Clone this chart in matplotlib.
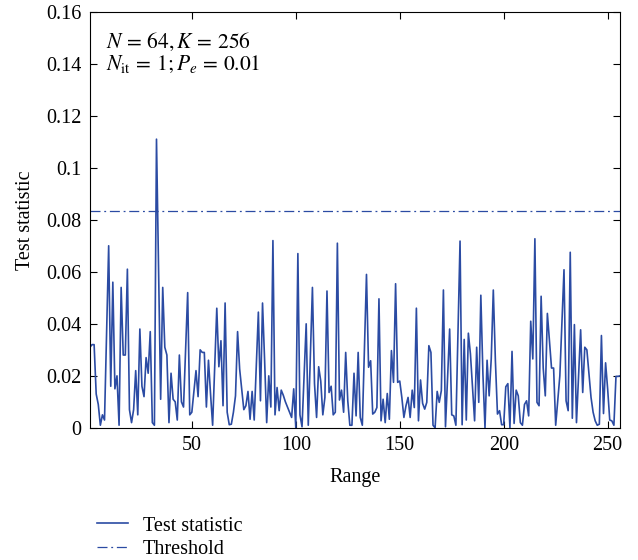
import numpy as np
import matplotlib
matplotlib.use("Agg")
import matplotlib.pyplot as plt

# test statistic per range bin
test_stat = [
    0.031, 0.032, 0.032, 0.013, 0.009, 0.001, 0.005, 0.003, 0.036, 0.070,
    0.016, 0.056, 0.015, 0.020, 0.001, 0.054, 0.028, 0.028, 0.061, 0.007,
    0.002, 0.007, 0.022, 0.005, 0.038, 0.016, 0.012, 0.027, 0.021, 0.037,
    0.002, 0.001, 0.111, 0.060, 0.011, 0.054, 0.031, 0.028, 0.002, 0.021,
    0.011, 0.010, 0.003, 0.028, 0.010, 0.008, 0.030, 0.052, 0.005, 0.006,
    0.014, 0.022, 0.012, 0.030, 0.029, 0.029, 0.008, 0.026, 0.013, 0.001,
    0.023, 0.046, 0.0235, 0.0335, 0.0085, 0.048, 0.006, 0.0012, 0.0014, 0.006,
    0.0123, 0.037, 0.0226, 0.015, 0.007, 0.0085, 0.014, 0.0033, 0.014, 0.003,
    0.024, 0.0445, 0.0104, 0.048, 0.026, 0.002, 0.020, 0.008, 0.072, 0.005,
    0.0155, 0.0066, 0.0145, 0.0125, 0.010, 0.008, 0.006, 0.004, 0.015, 0.0,
    0.067, 0.005, 0.0004, 0.020, 0.040, 0.001, 0.027, 0.054, 0.017, 0.004,
    0.0235, 0.018, 0.005, 0.0117, 0.0526, 0.0136, 0.016, 0.005, 0.006, 0.071,
    0.0107, 0.0145, 0.006, 0.029, 0.0104, 0.001, 0.001, 0.021, 0.0046, 0.029,
    0.004, 0.001, 0.030, 0.059, 0.0233, 0.0258, 0.0053, 0.006, 0.0078, 0.0496,
    0.0027, 0.011, 0.002, 0.0132, 0.0033, 0.0297, 0.0175, 0.0554, 0.0175, 0.018,
    0.0117, 0.004, 0.0085, 0.0117, 0.004, 0.0145, 0.0078, 0.046, 0.0027, 0.0184,
    0.0094, 0.0072, 0.0098, 0.0316, 0.029, 0.001, 0.0, 0.014, 0.0098, 0.0143,
    0.053, 0.0004, 0.019, 0.038, 0.005, 0.0046, 0.001, 0.036, 0.0718, 0.0012,
    0.034, 0.003, 0.0364, 0.0284, 0.0155, 0.0027, 0.031, 0.0098, 0.051, 0.0207,
    0.0, 0.026, 0.0123, 0.0265, 0.053, 0.0258, 0.0053, 0.0066, 0.0012, 0.0012,
    0.0158, 0.017, 0.0, 0.0294, 0.0017, 0.0145, 0.0123, 0.002, 0.001, 0.009,
    0.0104, 0.0046, 0.041, 0.0265, 0.0727, 0.0098, 0.0085, 0.0506, 0.023, 0.0123,
    0.044, 0.0335, 0.023, 0.023, 0.001, 0.0104, 0.020, 0.040, 0.0608, 0.0104,
    0.0066, 0.0675, 0.0037, 0.0397, 0.002, 0.020, 0.0377, 0.0136, 0.031, 0.030,
    0.021, 0.0117, 0.006, 0.0027, 0.001, 0.0014, 0.0355, 0.0055, 0.025, 0.0149,
    0.003, 0.0027, 0.001, 0.0198, 0.0198, 0.020,
]
threshold = 0.0833
range_bins = np.arange(1, len(test_stat) + 1)

x_ticks = [50, 100, 150, 200, 250]
y_ticks = [0, 0.02, 0.04, 0.06, 0.08, 0.1, 0.12, 0.14, 0.16]
y_labels = ["0", "0.02", "0.04", "0.06", "0.08", "0.1", "0.12", "0.14", "0.16"]

plt.rcParams["font.family"] = "serif"
plt.rcParams["font.serif"] = ["Liberation Serif", "DejaVu Serif"]
plt.rcParams["mathtext.fontset"] = "stix"

blue = "#2B4BA3"
fs = 14.5

fig = plt.figure(figsize=(6.38, 5.6), dpi=100)
ax = fig.add_axes([0.141, 0.236, 0.831, 0.743])

ax.plot(range_bins, test_stat, color=blue, lw=1.2, label="Test statistic")
ax.axhline(threshold, color=blue, lw=0.9, ls="-.", dashes=(8, 3, 1.5, 3),
           label="Threshold")

ax.set_xlim(1, 256)
ax.set_ylim(0, 0.16)
ax.set_xticks(x_ticks)
ax.set_yticks(y_ticks)
ax.set_yticklabels(y_labels)
ax.tick_params(direction="in", top=True, right=True, labelsize=fs,
               length=5, width=0.8, pad=6)
for s in ax.spines.values():
    s.set_linewidth(0.8)

ax.set_xlabel("Range", fontsize=fs, labelpad=9)
ax.set_ylabel("Test statistic", fontsize=fs, labelpad=8)

ax.text(0.03, 0.955, r"$N\,=\,64, K\,=\,256$", transform=ax.transAxes,
        fontsize=15.5, va="top", ha="left")
ax.text(0.03, 0.898, r"$N_{\mathrm{it}}\,=\,1; P_e\,=\,0.01$",
        transform=ax.transAxes, fontsize=15.5, va="top", ha="left")

handles, labels = ax.get_legend_handles_labels()
fig.legend(handles, labels, loc="lower left", bbox_to_anchor=(0.14, -0.012),
           frameon=False, fontsize=fs, handlelength=1.5,
           handletextpad=0.75, labelspacing=0.2, borderaxespad=0.0)

fig.savefig("out.png", dpi=100)
